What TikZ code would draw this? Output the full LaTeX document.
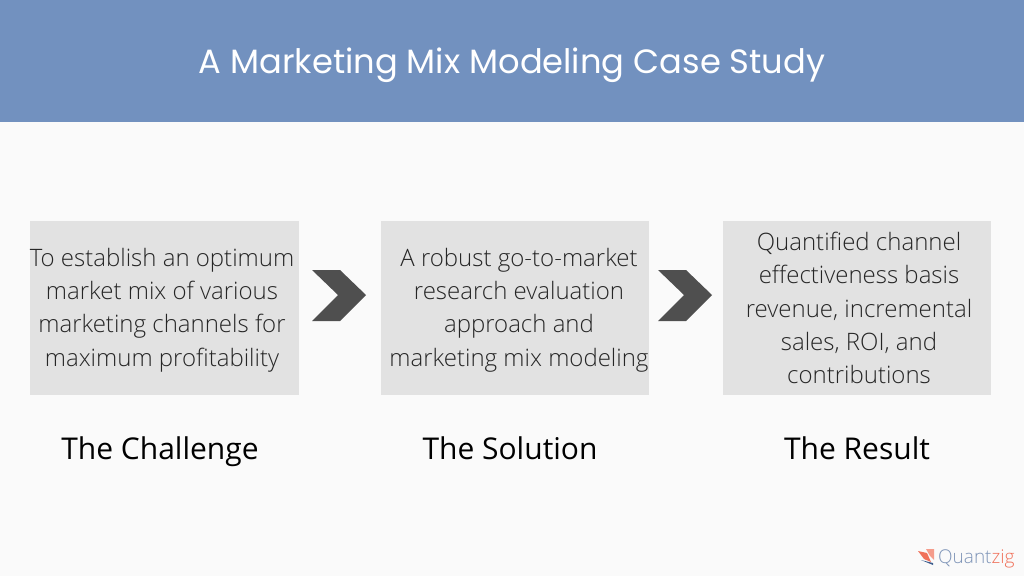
\documentclass[tikz,border=0pt]{standalone}
\usepackage{fontspec}
\setmainfont{Open Sans}
\newfontfamily\lightfont{Open Sans Light}
\newfontfamily\titlefont{Poppins}
\definecolor{bgc}{HTML}{FAFAFA}
\definecolor{band}{HTML}{7291BF}
\definecolor{boxc}{HTML}{E2E2E2}
\definecolor{chev}{HTML}{4F4F4F}
\definecolor{txt}{HTML}{262626}
\definecolor{logoblue}{HTML}{7F95B8}
\definecolor{logored}{HTML}{F0715A}
\definecolor{logodark}{HTML}{3F5F8F}
\tikzset{x=1pt,y=-1pt,
 panel/.style={fill=boxc,minimum width=268.5pt,minimum height=174pt,inner sep=0pt},
 body/.style={inner sep=0pt,align=center,text=txt,font=\lightfont\fontsize{24pt}{33.4pt}\selectfont},
 head/.style={font=\fontsize{30pt}{36pt}\selectfont,text=black,anchor=base},
 chevron/.style={fill=chev,draw=none}}
\begin{document}
\begin{tikzpicture}
\useasboundingbox (0,0) rectangle (1024,576);
\fill[bgc] (0,0) rectangle (1024,576);
\fill[band] (0,0) rectangle (1024,122);
\node[text=white,font=\titlefont\fontsize{33.7pt}{38pt}\selectfont] (title) at (512,65) {A Marketing Mix Modeling Case Study};
\node[panel] (p1) at (164.5,308) {};
\node[panel] (p2) at (515,308) {};
\node[panel] (p3) at (857,308) {};
\node[body] (b1) at (162,310) {To establish an optimum\\market mix of various\\marketing channels for\\maximum profitability};
\node[body] (b2) at (519,310) {A robust go-to-market\\research evaluation\\approach and\\marketing mix modeling};
\node[body] (b3) at (859,308) {Quantified channel\\effectiveness basis\\revenue, incremental\\sales, ROI, and\\contributions};
\fill[chevron] (312,270) -- (340,270) -- (366,295) -- (340,321) -- (312,321) -- (338,295) -- cycle;
\fill[chevron] (658,270) -- (686,270) -- (712,295) -- (686,321) -- (658,321) -- (684,295) -- cycle;
\node[head] (h1) at (160,459) {The Challenge};
\node[head] (h2) at (510,459) {The Solution};
\node[head] (h3) at (857,459) {The Result};
% logo
\fill[logored] (918,551) -- (927,553) -- (931,562) -- (924,559) -- cycle;
\fill[logored!70!white] (926,549) -- (934,549) -- (934,560) -- (930,556) -- cycle;
\fill[logodark] (921,560) -- (933,563) -- (933,565) -- cycle;
\node[anchor=base west,inner sep=0pt,font=\lightfont\fontsize{19pt}{20pt}\selectfont] (logo) at (938,563) {\textcolor{logoblue}{Quant}\textcolor{logored}{zig}};
\end{tikzpicture}
\end{document}
